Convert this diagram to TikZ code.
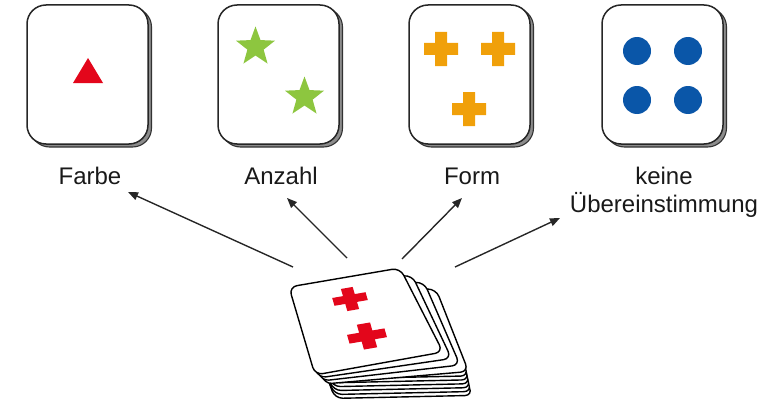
\documentclass[tikz,border=0pt]{standalone}
\usepackage{fontspec}
\setmainfont{Liberation Sans}
\usetikzlibrary{shapes.geometric,arrows.meta,calc}
\definecolor{cred}{HTML}{E3061B}
\definecolor{cgreen}{HTML}{8DC63F}
\definecolor{corange}{HTML}{F0A00A}
\definecolor{cblue}{HTML}{0A56A8}
\newcommand\crossshape{(-6,-17) -- (6,-17) -- (6,-6) -- (17,-6) -- (17,6) -- (6,6) -- (6,17) -- (-6,17) -- (-6,6) -- (-17,6) -- (-17,-6) -- (-6,-6) -- cycle}
\begin{document}
\begin{tikzpicture}[x=1pt,y=-1pt,
  cardshadow/.style={draw=black!80, fill=black!45, line width=1.1pt, rounded corners=19pt, minimum width=121pt, minimum height=139pt, inner sep=0},
  cardface/.style={draw=black!85, fill=white, line width=1.5pt, rounded corners=19pt, minimum width=121pt, minimum height=139pt, inner sep=0},
  deckcard/.style={draw=black, fill=white, line width=1.4pt, rounded corners=8pt},
  lbl/.style={font=\fontsize{24}{28}\selectfont, text=black!90, inner sep=0, anchor=base},
  arr/.style={-{Triangle[length=10pt,width=8pt]}, line width=1.4pt, draw=black!85},
  dot/.style={circle, fill=cblue, minimum size=28pt, inner sep=0},
  starsh/.style={star, star points=5, star point ratio=2.4, minimum size=41pt, inner sep=0, fill=cgreen}
]
\useasboundingbox (0,0) rectangle (781,404);

% top cards
\foreach \cx [count=\i] in {87.5,278.5,469.5,662.5}{
  \node[cardshadow] (sh\i) at (\cx+3.5,77.5) {};
  \node[cardface] (card\i) at (\cx,74.5) {};
}
% card 1: triangle
\fill[cred] (88,58) -- (103,83) -- (73,83) -- cycle;
% card 2: stars
\node[starsh] (star1) at (255.5,47) {};
\node[starsh] (star2) at (304.5,97) {};
% card 3: crosses
\fill[corange, shift={(441,49)}] \crossshape;
\fill[corange, shift={(498,49)}] \crossshape;
\fill[corange, shift={(469,109)}] \crossshape;
% card 4: dots
\node[dot] (d1) at (637,51) {};
\node[dot] (d2) at (688,51) {};
\node[dot] (d3) at (637,100) {};
\node[dot] (d4) at (688,100) {};

% labels
\node[lbl] (farbe) at (90,184) {Farbe};
\node[lbl] (anzahl) at (281,184) {Anzahl};
\node[lbl] (form) at (472,184) {Form};
\node[lbl] (keine) at (664,184) {keine};
\node[lbl] (uebereinst) at (664,212) {Übereinstimmung};

% arrows
\coordinate (t1) at (293,267); \coordinate (h1) at (128,192);
\coordinate (t2) at (347,258); \coordinate (h2) at (287,198);
\coordinate (t3) at (402,259); \coordinate (h3) at (462,198);
\coordinate (t4) at (455,267); \coordinate (h4) at (560,218);
\draw[arr] (t1) -- (h1);
\draw[arr] (t2) -- (h2);
\draw[arr] (t3) -- (h3);
\draw[arr] (t4) -- (h4);

% deck: stack below
\foreach \k in {6,5,4,3,2,1}{
  \draw[deckcard, shift={(0.8*\k,3.9*\k)}] (366,292) -- (433,293) -- (468,372) -- (330,375) -- (300,292) -- cycle;
}
% fanned cards
\foreach \j in {3,2,1}{
  \draw[deckcard] ($(344.5,277.5)+\j*(8.5,4)$) -- ($(400,268)+\j*(12,7)$) -- ($(443,352)+\j*(8.5,6.5)$) -- ($(315,375)+\j*(3,3)$) -- ($(289,287)+\j*(5,1)$) -- cycle;
}
% top card
\draw[deckcard] (344.5,277.5) -- (400,268) -- (443,352) -- (315,375) -- (289,287) -- cycle;
\begin{scope}[shift={(350,299)}, x={(0.98pt,0.17pt)}, y={(0.19pt,-0.65pt)}]
  \fill[cred] \crossshape;
\end{scope}
\begin{scope}[shift={(367,336)}, x={(1.1pt,0.19pt)}, y={(0.21pt,-0.73pt)}]
  \fill[cred] \crossshape;
\end{scope}
\end{tikzpicture}
\end{document}
